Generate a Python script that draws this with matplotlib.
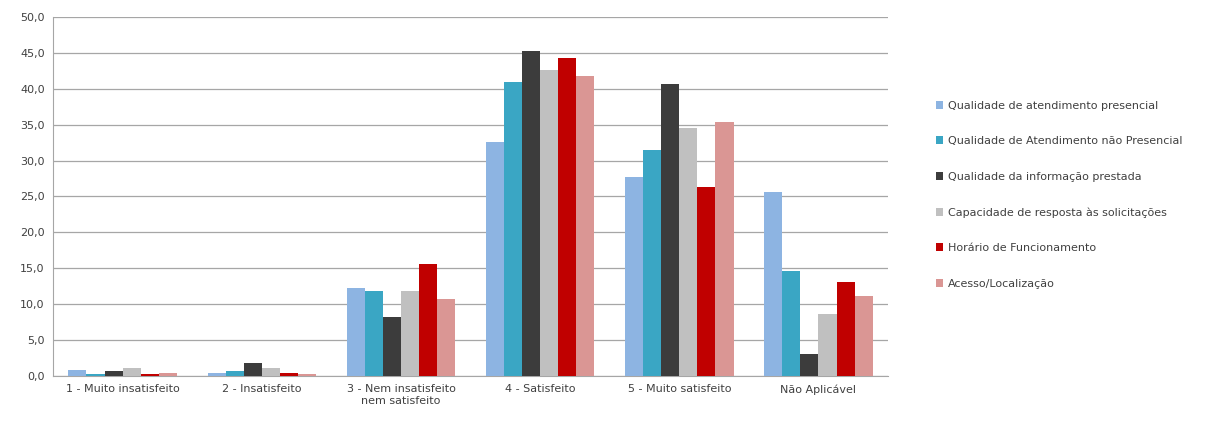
import matplotlib.pyplot as plt
import numpy as np
from matplotlib.ticker import FuncFormatter

categories = ["1 - Muito insatisfeito", "2 - Insatisfeito",
              "3 - Nem insatisfeito\nnem satisfeito", "4 - Satisfeito",
              "5 - Muito satisfeito", "Não Aplicável"]
series = ["Qualidade de atendimento presencial",
          "Qualidade de Atendimento não Presencial",
          "Qualidade da informação prestada",
          "Capacidade de resposta às solicitações",
          "Horário de Funcionamento",
          "Acesso/Localização"]
presencial = [0.9, 0.4, 12.2, 32.6, 27.7, 25.6]
nao_presencial = [0.3, 0.7, 11.8, 41.0, 31.4, 14.6]
informacao = [0.7, 1.8, 8.2, 45.3, 40.6, 3.0]
capacidade = [1.1, 1.1, 11.8, 42.6, 34.5, 8.7]
horario = [0.3, 0.4, 15.6, 44.3, 26.3, 13.1]
acesso = [0.4, 0.3, 10.7, 41.8, 35.3, 11.2]
colors = ["#8DB4E2", "#3AA6C4", "#3C3C3C", "#C0C0C0", "#C00000", "#DA9694"]

values = [presencial, nao_presencial, informacao, capacidade, horario, acesso]

fig = plt.figure(figsize=(12.19, 4.25), dpi=100)
ax = fig.add_axes([0.0435, 0.1153, 0.685, 0.845])

x = np.arange(len(categories))
n = len(series)
w = 0.78 / n
for i, (name, vals) in enumerate(zip(series, values)):
    ax.bar(x + (i - (n - 1) / 2) * w, vals, w, color=colors[i], label=name, zorder=3)

ax.set_xlim(-0.5, len(categories) - 0.5)
ax.set_ylim(0, 50)
ax.set_yticks(np.arange(0, 50.1, 5))
ax.yaxis.set_major_formatter(FuncFormatter(lambda v, p: f"{v:.1f}".replace(".", ",")))
ax.set_xticks(x)
ax.set_xticklabels(categories)
ax.tick_params(axis="both", length=0, labelsize=8, colors="#404040", pad=6)
ax.grid(axis="y", color="#A6A6A6", linewidth=0.9, zorder=0)
for s in ["top", "right"]:
    ax.spines[s].set_visible(False)
for s in ["left", "bottom"]:
    ax.spines[s].set_color("#A6A6A6")

ax.legend(loc="center left", bbox_to_anchor=(1.045, 0.505), frameon=False,
          fontsize=8, labelspacing=2.3, handlelength=0.7, handleheight=0.7,
          handletextpad=0.4, labelcolor="#404040")

fig.savefig("out.png", dpi=100)
